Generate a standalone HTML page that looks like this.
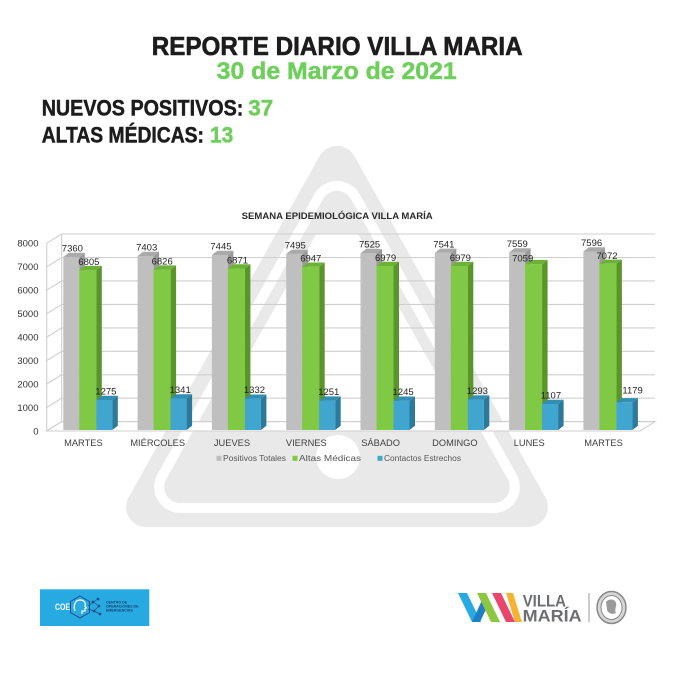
<!DOCTYPE html>
<html>
<head>
<meta charset="utf-8">
<style>
html,body{margin:0;padding:0;background:#fff;}
svg{display:block;}
text{font-family:"Liberation Sans",Arial,sans-serif;}
</style>
</head>
<body>
<svg width="675" height="675" viewBox="0 0 675 675" xmlns="http://www.w3.org/2000/svg">
<defs>
  <clipPath id="wall"><rect x="61.7" y="233.7" width="593.3" height="188"/></clipPath>
</defs>
<rect x="0" y="0" width="675" height="675" fill="#ffffff"/>

<!-- Watermark triangle -->
<polygon points="337,165.9 146.1,507 527.9,507" fill="#e9e9e9" stroke="#e9e9e9" stroke-width="40" stroke-linejoin="round"/>
<polygon points="337,206.9 180.2,487 493.8,487" fill="#ffffff" stroke="#ffffff" stroke-width="52" stroke-linejoin="round"/>
<polygon points="337,206.9 180.2,487 493.8,487" fill="#e9e9e9" stroke="#e9e9e9" stroke-width="32" stroke-linejoin="round"/>
<circle cx="338" cy="457" r="22" fill="#ffffff"/>
<!-- white back wall interior -->
<polygon points="337,196.7 171.7,492 502.3,492" fill="#ffffff" clip-path="url(#wall)"/>

<!-- Header -->
<text x="151.7" y="55" font-size="26" font-weight="bold" fill="#1c1c1c" stroke="#1c1c1c" stroke-width="0.6" textLength="371" lengthAdjust="spacingAndGlyphs">REPORTE DIARIO VILLA MARIA</text>
<text x="216.7" y="79" font-size="24" font-weight="bold" fill="#6fcf5c" stroke="#6fcf5c" stroke-width="0.5" textLength="240" lengthAdjust="spacingAndGlyphs">30 de Marzo de 2021</text>
<text x="41.7" y="115.7" font-size="22.5" font-weight="bold" fill="#1c1c1c" stroke="#1c1c1c" stroke-width="0.5" textLength="201.6" lengthAdjust="spacingAndGlyphs">NUEVOS POSITIVOS:</text>
<text x="248.3" y="115.7" font-size="22.5" font-weight="bold" fill="#6fcf5c" stroke="#6fcf5c" stroke-width="0.5" textLength="25" lengthAdjust="spacingAndGlyphs">37</text>
<text x="41.7" y="142.3" font-size="22.5" font-weight="bold" fill="#1c1c1c" stroke="#1c1c1c" stroke-width="0.5" textLength="162.3" lengthAdjust="spacingAndGlyphs">ALTAS MÉDICAS:</text>
<text x="210" y="142.3" font-size="22.5" font-weight="bold" fill="#6fcf5c" stroke="#6fcf5c" stroke-width="0.5" textLength="23.3" lengthAdjust="spacingAndGlyphs">13</text>

<!-- Chart title -->
<text x="241.7" y="219" font-size="9" font-weight="bold" fill="#2b2b2b" textLength="191" lengthAdjust="spacingAndGlyphs">SEMANA EPIDEMIOLÓGICA VILLA MARÍA</text>

<!-- Gridlines -->
<g stroke="#cfcfcf" stroke-width="1.1" fill="none">
  <polyline points="46.7,431 61.7,421.7 655,421.7"/>
  <polyline points="46.7,407.5 61.7,398.2 655,398.2"/>
  <polyline points="46.7,384.1 61.7,374.8 655,374.8"/>
  <polyline points="46.7,360.6 61.7,351.3 655,351.3"/>
  <polyline points="46.7,337.2 61.7,327.9 655,327.9"/>
  <polyline points="46.7,313.7 61.7,304.4 655,304.4"/>
  <polyline points="46.7,290.2 61.7,280.9 655,280.9"/>
  <polyline points="46.7,266.8 61.7,257.5 655,257.5"/>
  <polyline points="46.7,243.3 61.7,234 655,234"/>
  <line x1="46.7" y1="243.3" x2="46.7" y2="431"/>
  <line x1="61.7" y1="234" x2="61.7" y2="421.7"/>
  <polygon points="46.7,431 640,431 655,421.7 61.7,421.7" fill="#ffffff"/>
</g>

<!-- Y axis labels -->
<g font-size="9.5" fill="#333" text-anchor="end">
  <text x="38.5" y="434.4">0</text>
  <text x="38.5" y="410.9">1000</text>
  <text x="38.5" y="387.5">2000</text>
  <text x="38.5" y="364">3000</text>
  <text x="38.5" y="340.6">4000</text>
  <text x="38.5" y="317.1">5000</text>
  <text x="38.5" y="293.6">6000</text>
  <text x="38.5" y="270.2">7000</text>
  <text x="38.5" y="246.7">8000</text>
</g>

<!-- Bars -->
<g transform="translate(63.3,0)">
  <rect x="0" y="257" width="16" height="173" fill="#bfbfbf"/>
  <polygon points="16,257 21.5,252.8 21.5,425.8 16,430" fill="#9a9a9a"/>
  <polygon points="0,257 5.5,252.8 21.5,252.8 16,257" fill="#aaaaaa"/>
  <rect x="16" y="270.1" width="17" height="159.9" fill="#80c944"/>
  <polygon points="33,270.1 38.5,265.9 38.5,425.8 33,430" fill="#5a952b"/>
  <polygon points="16,270.1 21.5,265.9 38.5,265.9 33,270.1" fill="#6cb236"/>
  <rect x="33" y="400" width="16" height="30" fill="#41a6cf"/>
  <polygon points="49,400 54.5,395.8 54.5,425.8 49,430" fill="#2b7a9b"/>
  <polygon points="33,400 38.5,395.8 54.5,395.8 49,400" fill="#328eb3"/>
  <g font-size="9.5" fill="#262626">
    <text x="-1.5" y="251.5">7360</text>
    <text x="15" y="265.1">6805</text>
    <text x="32" y="394.5">1275</text>
  </g>
</g>
<g transform="translate(137.6,0)">
  <rect x="0" y="256" width="16" height="174" fill="#bfbfbf"/>
  <polygon points="16,256 21.5,251.8 21.5,425.8 16,430" fill="#9a9a9a"/>
  <polygon points="0,256 5.5,251.8 21.5,251.8 16,256" fill="#aaaaaa"/>
  <rect x="16" y="269.6" width="17" height="160.4" fill="#80c944"/>
  <polygon points="33,269.6 38.5,265.4 38.5,425.8 33,430" fill="#5a952b"/>
  <polygon points="16,269.6 21.5,265.4 38.5,265.4 33,269.6" fill="#6cb236"/>
  <rect x="33" y="398.5" width="16" height="31.5" fill="#41a6cf"/>
  <polygon points="49,398.5 54.5,394.3 54.5,425.8 49,430" fill="#2b7a9b"/>
  <polygon points="33,398.5 38.5,394.3 54.5,394.3 49,398.5" fill="#328eb3"/>
  <g font-size="9.5" fill="#262626">
    <text x="-1.5" y="250.5">7403</text>
    <text x="14" y="264.6">6826</text>
    <text x="32" y="393">1341</text>
  </g>
</g>
<g transform="translate(211.9,0)">
  <rect x="0" y="255" width="16" height="175" fill="#bfbfbf"/>
  <polygon points="16,255 21.5,250.8 21.5,425.8 16,430" fill="#9a9a9a"/>
  <polygon points="0,255 5.5,250.8 21.5,250.8 16,255" fill="#aaaaaa"/>
  <rect x="16" y="268.5" width="17" height="161.5" fill="#80c944"/>
  <polygon points="33,268.5 38.5,264.3 38.5,425.8 33,430" fill="#5a952b"/>
  <polygon points="16,268.5 21.5,264.3 38.5,264.3 33,268.5" fill="#6cb236"/>
  <rect x="33" y="398.7" width="16" height="31.3" fill="#41a6cf"/>
  <polygon points="49,398.7 54.5,394.5 54.5,425.8 49,430" fill="#2b7a9b"/>
  <polygon points="33,398.7 38.5,394.5 54.5,394.5 49,398.7" fill="#328eb3"/>
  <g font-size="9.5" fill="#262626">
    <text x="-1.5" y="249.5">7445</text>
    <text x="15" y="263.5">6871</text>
    <text x="32" y="393.2">1332</text>
  </g>
</g>
<g transform="translate(286.2,0)">
  <rect x="0" y="253.9" width="16" height="176.1" fill="#bfbfbf"/>
  <polygon points="16,253.9 21.5,249.7 21.5,425.8 16,430" fill="#9a9a9a"/>
  <polygon points="0,253.9 5.5,249.7 21.5,249.7 16,253.9" fill="#aaaaaa"/>
  <rect x="16" y="266.7" width="17" height="163.3" fill="#80c944"/>
  <polygon points="33,266.7 38.5,262.5 38.5,425.8 33,430" fill="#5a952b"/>
  <polygon points="16,266.7 21.5,262.5 38.5,262.5 33,266.7" fill="#6cb236"/>
  <rect x="33" y="400.6" width="16" height="29.4" fill="#41a6cf"/>
  <polygon points="49,400.6 54.5,396.4 54.5,425.8 49,430" fill="#2b7a9b"/>
  <polygon points="33,400.6 38.5,396.4 54.5,396.4 49,400.6" fill="#328eb3"/>
  <g font-size="9.5" fill="#262626">
    <text x="-1.5" y="248.4">7495</text>
    <text x="14" y="261.7">6947</text>
    <text x="32" y="395.1">1251</text>
  </g>
</g>
<g transform="translate(360.5,0)">
  <rect x="0" y="253.2" width="16" height="176.8" fill="#bfbfbf"/>
  <polygon points="16,253.2 21.5,249 21.5,425.8 16,430" fill="#9a9a9a"/>
  <polygon points="0,253.2 5.5,249 21.5,249 16,253.2" fill="#aaaaaa"/>
  <rect x="16" y="266" width="17" height="164" fill="#80c944"/>
  <polygon points="33,266 38.5,261.8 38.5,425.8 33,430" fill="#5a952b"/>
  <polygon points="16,266 21.5,261.8 38.5,261.8 33,266" fill="#6cb236"/>
  <rect x="33" y="400.7" width="16" height="29.3" fill="#41a6cf"/>
  <polygon points="49,400.7 54.5,396.5 54.5,425.8 49,430" fill="#2b7a9b"/>
  <polygon points="33,400.7 38.5,396.5 54.5,396.5 49,400.7" fill="#328eb3"/>
  <g font-size="9.5" fill="#262626">
    <text x="-1.5" y="247.7">7525</text>
    <text x="14.5" y="261">6979</text>
    <text x="32" y="395.2">1245</text>
  </g>
</g>
<g transform="translate(434.8,0)">
  <rect x="0" y="252.8" width="16" height="177.2" fill="#bfbfbf"/>
  <polygon points="16,252.8 21.5,248.6 21.5,425.8 16,430" fill="#9a9a9a"/>
  <polygon points="0,252.8 5.5,248.6 21.5,248.6 16,252.8" fill="#aaaaaa"/>
  <rect x="16" y="266" width="17" height="164" fill="#80c944"/>
  <polygon points="33,266 38.5,261.8 38.5,425.8 33,430" fill="#5a952b"/>
  <polygon points="16,266 21.5,261.8 38.5,261.8 33,266" fill="#6cb236"/>
  <rect x="33" y="399.6" width="16" height="30.4" fill="#41a6cf"/>
  <polygon points="49,399.6 54.5,395.4 54.5,425.8 49,430" fill="#2b7a9b"/>
  <polygon points="33,399.6 38.5,395.4 54.5,395.4 49,399.6" fill="#328eb3"/>
  <g font-size="9.5" fill="#262626">
    <text x="-1.5" y="247.3">7541</text>
    <text x="15" y="261">6979</text>
    <text x="32" y="394.1">1293</text>
  </g>
</g>
<g transform="translate(509.1,0)">
  <rect x="0" y="252.4" width="16" height="177.6" fill="#bfbfbf"/>
  <polygon points="16,252.4 21.5,248.2 21.5,425.8 16,430" fill="#9a9a9a"/>
  <polygon points="0,252.4 5.5,248.2 21.5,248.2 16,252.4" fill="#aaaaaa"/>
  <rect x="16" y="264.1" width="17" height="165.9" fill="#80c944"/>
  <polygon points="33,264.1 38.5,259.9 38.5,425.8 33,430" fill="#5a952b"/>
  <polygon points="16,264.1 21.5,259.9 38.5,259.9 33,264.1" fill="#6cb236"/>
  <rect x="33" y="404" width="16" height="26" fill="#41a6cf"/>
  <polygon points="49,404 54.5,399.8 54.5,425.8 49,430" fill="#2b7a9b"/>
  <polygon points="33,404 38.5,399.8 54.5,399.8 49,404" fill="#328eb3"/>
  <g font-size="9.5" fill="#262626">
    <text x="-2.4" y="246.9">7559</text>
    <text x="3" y="261.5">7059</text>
    <text x="31.6" y="398.5">1107</text>
  </g>
</g>
<g transform="translate(583.4,0)">
  <rect x="0" y="251.5" width="16" height="178.5" fill="#bfbfbf"/>
  <polygon points="16,251.5 21.5,247.3 21.5,425.8 16,430" fill="#9a9a9a"/>
  <polygon points="0,251.5 5.5,247.3 21.5,247.3 16,251.5" fill="#aaaaaa"/>
  <rect x="16" y="263.8" width="17" height="166.2" fill="#80c944"/>
  <polygon points="33,263.8 38.5,259.6 38.5,425.8 33,430" fill="#5a952b"/>
  <polygon points="16,263.8 21.5,259.6 38.5,259.6 33,263.8" fill="#6cb236"/>
  <rect x="33" y="402.3" width="16" height="27.7" fill="#41a6cf"/>
  <polygon points="49,402.3 54.5,398.1 54.5,425.8 49,430" fill="#2b7a9b"/>
  <polygon points="33,402.3 38.5,398.1 54.5,398.1 49,402.3" fill="#328eb3"/>
  <g font-size="9.5" fill="#262626">
    <text x="-2.4" y="246">7596</text>
    <text x="13" y="258.8">7072</text>
    <text x="39" y="393.5">1179</text>
  </g>
</g>

<!-- Category labels -->
<g font-size="9.3" fill="#404040" text-anchor="middle">
  <text x="83.4" y="446">MARTES</text>
  <text x="157.7" y="446">MIÉRCOLES</text>
  <text x="232" y="446">JUEVES</text>
  <text x="306.3" y="446">VIERNES</text>
  <text x="380.6" y="446">SÁBADO</text>
  <text x="454.9" y="446">DOMINGO</text>
  <text x="529.2" y="446">LUNES</text>
  <text x="603.5" y="446">MARTES</text>
</g>

<!-- Legend -->
<rect x="216.5" y="455.8" width="5" height="5" fill="#bfbfbf"/>
<text x="223" y="461" font-size="8" fill="#555" textLength="63" lengthAdjust="spacingAndGlyphs">Positivos Totales</text>
<rect x="292.5" y="455.8" width="5" height="5" fill="#80c944"/>
<text x="299" y="461" font-size="8" fill="#555" textLength="62" lengthAdjust="spacingAndGlyphs">Altas Médicas</text>
<rect x="377.5" y="455.8" width="5" height="5" fill="#41a6cf"/>
<text x="384" y="461" font-size="8" fill="#555" textLength="77" lengthAdjust="spacingAndGlyphs">Contactos Estrechos</text>

<!-- COE logo -->
<rect x="40" y="589.3" width="109.3" height="36.7" fill="#27aae1"/>
<text x="55" y="609.8" font-size="9" font-weight="bold" fill="#ffffff" textLength="15" lengthAdjust="spacingAndGlyphs">COE</text>
<polygon points="80,596 89.5,601.5 89.5,612.5 80,618 70.5,612.5 70.5,601.5" fill="none" stroke="#1d4f86" stroke-width="1"/>
<path d="M75,611 C73,606 75,600 80,600 C84,600 86,603 85,606 L86.5,608 L85,608.5 L85,611 L82,611 L82,614" fill="none" stroke="#ffffff" stroke-width="1.2"/>
<g stroke="#1d4f86" stroke-width="0.7" fill="#1d4f86">
  <line x1="88" y1="606" x2="93" y2="602"/>
  <line x1="93" y1="602" x2="98" y2="599"/>
  <line x1="93" y1="602" x2="99" y2="606"/>
  <line x1="99" y1="606" x2="94" y2="611"/>
  <line x1="94" y1="611" x2="100" y2="614"/>
  <line x1="88" y1="609" x2="94" y2="611"/>
  <circle cx="93" cy="602" r="1"/>
  <circle cx="98" cy="599" r="1"/>
  <circle cx="99" cy="606" r="1"/>
  <circle cx="94" cy="611" r="1"/>
  <circle cx="100" cy="614" r="1"/>
</g>
<g font-size="3.6" font-weight="bold" fill="#1c3f6e">
  <text x="106" y="603.5">CENTRO DE</text>
  <text x="106" y="607.5">OPERACIONES DE</text>
  <text x="106" y="611.5">EMERGENCIAS</text>
</g>

<!-- Villa Maria logo -->
<polygon points="458,593 467,593 481,622 472,622" fill="#29a9e1"/>
<polygon points="472,622 480,622 489,603 483,598" fill="#1f7fc4"/>
<polygon points="477,593 486,593 500,622 491,622" fill="#8dc63f"/>
<polygon points="492,593 501,593 515,622 506,622" fill="#e8466c"/>
<polygon points="506,593 513,593 522,622 515,622" fill="#f6b233"/>
<text x="522.7" y="606.7" font-size="17" font-weight="bold" fill="#6d6e71" textLength="43.3" lengthAdjust="spacingAndGlyphs">VILLA</text>
<text x="522.7" y="621.7" font-size="17" font-weight="bold" fill="#6d6e71" textLength="59" lengthAdjust="spacingAndGlyphs">MARÍA</text>
<line x1="589" y1="593" x2="589" y2="622" stroke="#9a9a9a" stroke-width="1"/>
<ellipse cx="611.5" cy="607.5" rx="14.5" ry="16" fill="#d6d6d6" stroke="#8a8a8a" stroke-width="1.5"/>
<ellipse cx="611.5" cy="607.5" rx="10.5" ry="12" fill="#ffffff" stroke="#8a8a8a" stroke-width="1"/>
<path d="M606,602 C609,598 615,599 616,603 C617,607 614,609 616,613 C612,615 607,613 607,609 Z" fill="#9a9a9a"/>
</svg>
</body>
</html>
